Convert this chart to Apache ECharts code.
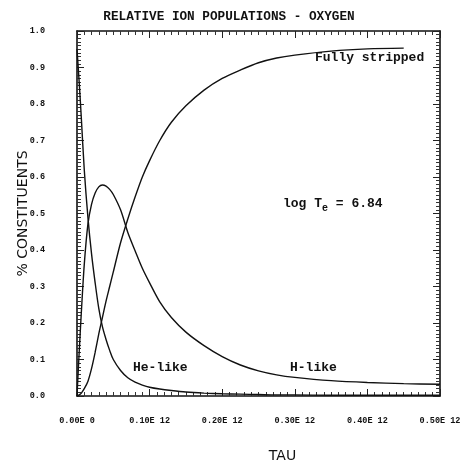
<!DOCTYPE html>
<html>
<head>
<meta charset="utf-8">
<script src="https://cdn.jsdelivr.net/npm/echarts@6/dist/echarts.min.js"></script>
<style>html,body{margin:0;padding:0;background:#fff}#c{width:464px;height:465px}</style>
</head>
<body>
<div id="c"></div>
<script>
// ---- data ----
const tau = [0, 0.003, 0.006, 0.01, 0.015, 0.02, 0.025, 0.03, 0.035, 0.04, 0.045, 0.05, 0.06, 0.07, 0.08, 0.09, 0.1, 0.114, 0.13, 0.15, 0.175, 0.2, 0.225, 0.25, 0.275, 0.3, 0.35, 0.4, 0.45, 0.5];
const heLike = [0.95, 0.86, 0.76, 0.62, 0.49, 0.39, 0.31, 0.24, 0.19, 0.155, 0.125, 0.10, 0.07, 0.05, 0.038, 0.03, 0.024, 0.019, 0.015, 0.011, 0.008, 0.006, 0.005, 0.004, 0.003, 0.003, 0.002, 0.002, 0.002, 0.002];
const hLike = [0, 0.12, 0.23, 0.36, 0.47, 0.525, 0.556, 0.573, 0.578, 0.575, 0.566, 0.552, 0.51, 0.448, 0.398, 0.35, 0.31, 0.258, 0.215, 0.175, 0.138, 0.108, 0.085, 0.069, 0.058, 0.051, 0.042, 0.037, 0.034, 0.032];
const fullyStripped = [0, 0.003, 0.008, 0.02, 0.04, 0.075, 0.12, 0.17, 0.215, 0.26, 0.30, 0.34, 0.42, 0.485, 0.545, 0.60, 0.645, 0.70, 0.75, 0.795, 0.838, 0.87, 0.893, 0.913, 0.926, 0.934, 0.945, 0.951, 0.953];
const xTickLabels = ['0.00E 0', '0.10E 12', '0.20E 12', '0.30E 12', '0.40E 12', '0.50E 12'];
const yTickLabels = ['0.0', '0.1', '0.2', '0.3', '0.4', '0.5', '0.6', '0.7', '0.8', '0.9', '1.0'];

const pairs = (ys) => ys.map((y, i) => [tau[i], y]);

const mono = 'Liberation Mono';
function axisBase() {
  return {
    min: 0,
    nameMoveOverlap: false,
    axisLine: { show: true, onZero: false, lineStyle: { color: '#111', width: 1.6 } },
    axisTick: { show: true, inside: true, length: 7, lineStyle: { color: '#222', width: 1 } },
    minorTick: { show: true, splitNumber: 10, length: 4, lineStyle: { color: '#333', width: 1 } },
    splitLine: { show: false }
  };
}

const chart = echarts.init(document.getElementById('c'));
chart.setOption({
  animation: false,
  backgroundColor: '#fff',
  title: {
    text: 'RELATIVE ION POPULATIONS - OXYGEN',
    left: 224, top: 5, textAlign: 'center',
    textStyle: { fontFamily: mono, fontSize: 12.7, fontWeight: 'bold', color: '#111' }
  },
  grid: { left: 77, right: 24, top: 31, bottom: 69, outerBoundsMode: 'none', containLabel: false },
  xAxis: [
    Object.assign(axisBase(), {
      type: 'value', position: 'bottom', max: 0.5, interval: 0.1,
      name: 'TAU', nameLocation: 'middle', nameGap: 53,
      nameTextStyle: { fontFamily: 'DejaVu Sans', fontSize: 14, color: '#111', padding: [0, 0, 0, 48] },
      axisLabel: {
        margin: 20, fontFamily: mono, fontSize: 8.5, fontWeight: 'bold', color: '#111',
        formatter: (v) => xTickLabels[Math.round(v / 0.1)]
      }
    }),
    Object.assign(axisBase(), {
      type: 'value', position: 'top', max: 0.5, interval: 0.1, axisLabel: { show: false }
    })
  ],
  yAxis: [
    Object.assign(axisBase(), {
      type: 'value', position: 'left', max: 1, interval: 0.1,
      name: '% CONSTITUENTS', nameLocation: 'middle', nameGap: 47, nameRotate: 90,
      nameTextStyle: { fontFamily: 'DejaVu Sans', fontSize: 14, color: '#111' },
      axisLabel: {
        margin: 32, fontFamily: mono, fontSize: 8.5, fontWeight: 'bold', color: '#111',
        formatter: (v) => yTickLabels[Math.round(v / 0.1)]
      }
    }),
    Object.assign(axisBase(), {
      type: 'value', position: 'right', max: 1, interval: 0.1, axisLabel: { show: false }
    })
  ],
  series: [
    { name: 'He-like', type: 'line', data: pairs(heLike), showSymbol: false, smooth: 0.3,
      lineStyle: { color: '#111', width: 1.4 } },
    { name: 'H-like', type: 'line', data: pairs(hLike), showSymbol: false, smooth: 0.3,
      lineStyle: { color: '#111', width: 1.4 } },
    { name: 'Fully stripped', type: 'line', data: pairs(fullyStripped), showSymbol: false, smooth: 0.3,
      lineStyle: { color: '#111', width: 1.4 } }
  ],
  graphic: [
    { type: 'text', left: 315, top: 51, style: { text: 'Fully stripped', font: 'bold 13px "Liberation Mono"', fill: '#111' } },
    { type: 'text', left: 283, top: 197, style: {
        text: 'log T{s|e} = 6.84', font: 'bold 13px "Liberation Mono"', fill: '#111',
        rich: { s: { font: 'bold 10px "Liberation Mono"', padding: [10, 0, 0, 0], fill: '#111' } } } },
    { type: 'text', left: 133, top: 361, style: { text: 'He-like', font: 'bold 13px "Liberation Mono"', fill: '#111' } },
    { type: 'text', left: 290, top: 361, style: { text: 'H-like', font: 'bold 13px "Liberation Mono"', fill: '#111' } }
  ]
});
</script>
</body>
</html>
